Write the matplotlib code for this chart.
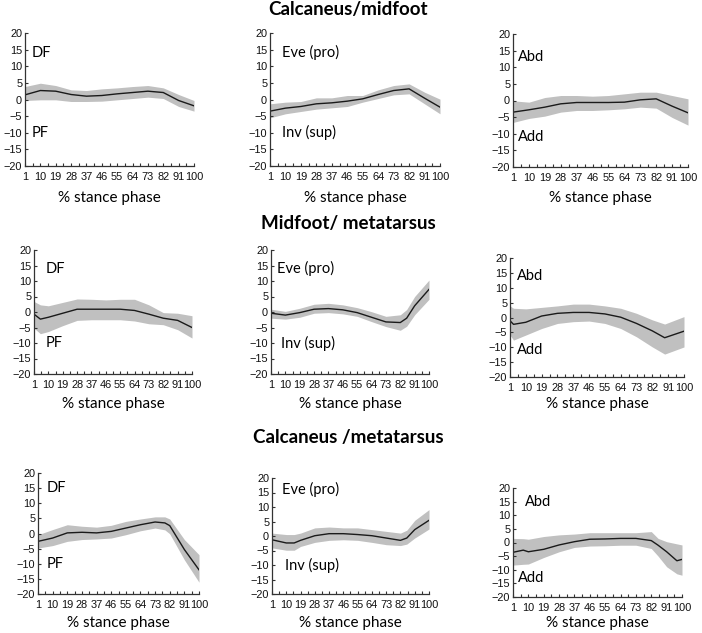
import matplotlib
matplotlib.use("Agg")
import matplotlib.pyplot as plt
import numpy as np

# ---- data (mean and band limits per panel) ----
xticks = [1, 10, 19, 28, 37, 46, 55, 64, 73, 82, 91, 100]
row_titles = ["Calcaneus/midfoot", "Midfoot/ metatarsus", "Calcaneus /metatarsus"]
col_labels = [("DF", "PF"), ("Eve (pro)", "Inv (sup)"), ("Abd", "Add")]

# row 1
cm_df_x = [1, 10, 19, 28, 37, 46, 55, 64, 73, 82, 91, 100]
cm_df_mean = [1.4, 2.7, 2.5, 1.5, 1.0, 1.2, 1.7, 2.1, 2.5, 2.1, -0.3, -1.9]
cm_df_hi = [3.9, 4.9, 4.2, 2.9, 2.7, 3.2, 3.5, 3.9, 4.2, 3.5, 1.5, -0.3]
cm_df_lo = [-0.3, -0.1, -0.1, -0.6, -0.6, -0.5, -0.1, 0.3, 0.7, 0.3, -2.1, -3.5]

cm_ev_x = [1, 10, 19, 28, 37, 46, 55, 64, 73, 82, 91, 100]
cm_ev_mean = [-3.5, -2.6, -2.1, -1.3, -1.0, -0.5, 0.2, 1.5, 2.7, 3.2, 0.4, -2.3]
cm_ev_hi = [-1.3, -0.8, -0.6, 0.5, 0.5, 1.2, 1.2, 2.9, 4.2, 4.7, 2.2, 0.1]
cm_ev_lo = [-5.5, -4.3, -3.6, -2.9, -2.5, -2.1, -0.8, 0.3, 1.4, 1.7, -1.3, -4.3]

cm_ab_x = [1, 10, 19, 28, 37, 46, 55, 64, 73, 82, 91, 100]
cm_ab_mean = [-3.5, -2.8, -2.0, -1.0, -0.6, -0.6, -0.6, -0.5, 0.2, 0.5, -1.7, -3.7]
cm_ab_hi = [-0.1, -0.5, 0.9, 1.5, 1.5, 1.3, 1.5, 2.0, 2.5, 2.5, 1.5, 0.5]
cm_ab_lo = [-6.6, -5.4, -4.7, -3.5, -3.0, -3.0, -2.8, -2.5, -2.0, -2.3, -5.1, -7.4]

# row 2
mm_df_x = [1, 5, 10, 19, 28, 37, 46, 55, 64, 73, 82, 91, 100]
mm_df_mean = [-0.7, -2.3, -1.7, -0.4, 0.9, 0.9, 0.9, 0.9, 0.5, -0.7, -2.0, -2.7, -5.0]
mm_df_hi = [3.4, 2.3, 2.0, 3.1, 4.2, 4.1, 3.9, 4.1, 4.1, 2.3, -0.2, -0.4, -1.2]
mm_df_lo = [-5.2, -7.0, -6.3, -4.4, -2.7, -2.5, -2.5, -2.5, -2.9, -3.8, -4.1, -5.7, -8.4]

mm_ev_x = [1, 10, 19, 28, 37, 46, 55, 64, 73, 82, 86, 91, 100]
mm_ev_mean = [-0.4, -1.0, -0.2, 0.9, 1.1, 0.7, -0.2, -1.7, -3.2, -3.4, -2.0, 2.0, 7.3]
mm_ev_hi = [0.9, 0.2, 1.2, 2.5, 2.8, 2.3, 1.4, 0.1, -1.4, -0.9, 0.8, 5.0, 10.3]
mm_ev_lo = [-2.0, -2.3, -1.7, -0.4, -0.2, -0.6, -1.4, -3.1, -4.7, -5.9, -4.6, -0.9, 4.1]

mm_ab_x = [1, 3, 10, 19, 28, 37, 46, 55, 64, 73, 82, 89, 100]
mm_ab_mean = [-1.1, -2.3, -1.6, 0.5, 1.4, 1.7, 1.7, 1.2, 0.1, -2.0, -4.5, -6.8, -4.6]
mm_ab_hi = [3.9, 3.1, 2.9, 3.4, 3.9, 4.5, 4.5, 3.9, 3.1, 1.4, -0.8, -2.2, 0.3]
mm_ab_lo = [-5.9, -7.6, -5.9, -3.7, -2.0, -1.4, -1.2, -2.0, -3.7, -6.5, -9.9, -12.3, -9.9]

# row 3
ct_df_x = [1, 10, 19, 28, 37, 46, 55, 64, 73, 79, 82, 91, 100]
ct_df_mean = [-2.6, -1.5, 0.2, 0.4, 0.2, 0.7, 1.8, 2.9, 3.8, 3.5, 2.6, -5.3, -12.0]
ct_df_hi = [-0.4, 1.3, 2.9, 2.4, 2.1, 2.7, 4.0, 4.8, 5.5, 5.5, 4.8, -2.0, -7.0]
ct_df_lo = [-4.8, -4.0, -2.6, -2.0, -1.8, -1.5, -0.4, 0.9, 1.8, 1.2, -0.1, -8.7, -16.1]

ct_ev_x = [1, 10, 15, 19, 28, 37, 46, 55, 64, 73, 82, 86, 91, 100]
ct_ev_mean = [-1.3, -2.4, -2.4, -1.5, 0.1, 0.8, 0.8, 0.5, 0.1, -0.7, -1.5, -0.7, 2.2, 5.4]
ct_ev_hi = [1.0, 0.5, 0.5, 1.0, 2.8, 3.1, 2.8, 2.8, 2.2, 1.6, 1.0, 2.0, 5.4, 9.1]
ct_ev_lo = [-4.1, -4.9, -4.9, -3.6, -2.2, -1.5, -1.3, -1.5, -2.2, -3.0, -3.3, -2.8, -0.7, 2.4]

ct_ab_x = [1, 7, 10, 19, 28, 37, 46, 55, 64, 73, 82, 86, 91, 97, 100]
ct_ab_mean = [-3.6, -2.8, -3.4, -2.5, -0.9, 0.3, 1.2, 1.3, 1.5, 1.5, 0.7, -1.0, -3.4, -6.7, -6.2]
ct_ab_hi = [1.5, 1.4, 1.2, 2.2, 2.8, 3.1, 3.6, 3.6, 3.6, 3.6, 4.0, 1.5, 0.3, -0.5, -0.9]
ct_ab_lo = [-8.3, -8.0, -7.9, -5.5, -3.4, -1.8, -1.3, -1.2, -1.0, -1.0, -2.2, -5.0, -8.9, -11.5, -12.0]

panels = [
    [(cm_df_x, cm_df_mean, cm_df_hi, cm_df_lo), (cm_ev_x, cm_ev_mean, cm_ev_hi, cm_ev_lo),
     (cm_ab_x, cm_ab_mean, cm_ab_hi, cm_ab_lo)],
    [(mm_df_x, mm_df_mean, mm_df_hi, mm_df_lo), (mm_ev_x, mm_ev_mean, mm_ev_hi, mm_ev_lo),
     (mm_ab_x, mm_ab_mean, mm_ab_hi, mm_ab_lo)],
    [(ct_df_x, ct_df_mean, ct_df_hi, ct_df_lo), (ct_ev_x, ct_ev_mean, ct_ev_hi, ct_ev_lo),
     (ct_ab_x, ct_ab_mean, ct_ab_hi, ct_ab_lo)],
]

# ---- layout (pixel boxes: left, right, top, bottom) ----
W, H = 702, 633
boxes = [
    [(25, 194, 33, 166), (270, 440, 33, 166), (513, 688, 34, 167)],
    [(34, 192, 250, 374), (271, 429, 250, 374), (510, 684, 258, 377)],
    [(38, 199, 473, 594), (272, 429, 478, 594), (513, 682, 488, 597)],
]
title_y = [10, 223, 438]
xlabel_y = [198, 404, 623]
# upper / lower annotation anchors in data coords
label_pos = [
    [((5, 14), (5, -10)), ((8, 14), (8, -10)), ((4, 13), (4, -11))],
    [((8, 14), (8, -10)), ((5, 14), (7, -10)), ((5, 14), (5, -11))],
    [((6, 15), (6, -10)), ((7, 16), (9, -10)), ((8, 15), (4, -13))],
]

label_font = "Lato"
tick_font = "Liberation Sans"
band_color = "#c0c0c0"

fig = plt.figure(figsize=(W / 100, H / 100), dpi=100)
fig.patch.set_facecolor("white")

for r in range(3):
    fig.text(348 / W, 1 - title_y[r] / H, row_titles[r], ha="center", va="center",
             fontsize=13.5, fontweight="bold", family=label_font)
    for c in range(3):
        l, rt, t, b = boxes[r][c]
        ax = fig.add_axes([l / W, 1 - b / H, (rt - l) / W, (b - t) / H])
        x, m, hi, lo = panels[r][c]
        ax.fill_between(x, lo, hi, color=band_color, linewidth=0)
        ax.plot(x, m, color="#1a1a1a", linewidth=1.0)
        ax.set_xlim(1, 100)
        ax.set_ylim(-20, 20)
        ax.set_xticks(xticks)
        ax.set_xticks([v + 4.5 for v in xticks[:-1]], minor=True)
        ax.set_yticks(np.arange(-20, 21, 5))
        for s in ["top", "right"]:
            ax.spines[s].set_visible(False)
        for s in ["left", "bottom"]:
            ax.spines[s].set_color("#333333")
            ax.spines[s].set_linewidth(0.9)
        ax.tick_params(axis="x", which="both", direction="in", length=2.5, width=0.8,
                       pad=4, labelsize=7.9, colors="#333333", labelcolor="#111111")
        ax.tick_params(axis="y", direction="in", length=2.5, width=0.8, pad=2,
                       labelsize=7.9, colors="#333333", labelcolor="#111111")
        for lab in ax.get_xticklabels() + ax.get_yticklabels():
            lab.set_family(tick_font)
        (ux, uy), (lx, ly) = label_pos[r][c]
        up, down = col_labels[c]
        ax.text(ux, uy, up, ha="left", va="center", fontsize=10.5, family=label_font)
        ax.text(lx, ly, down, ha="left", va="center", fontsize=10.5, family=label_font)
        fig.text((l + rt) / 2 / W, 1 - xlabel_y[r] / H, "% stance phase", ha="center",
                 va="center", fontsize=11, family=label_font)

fig.savefig("out.png", dpi=100)
